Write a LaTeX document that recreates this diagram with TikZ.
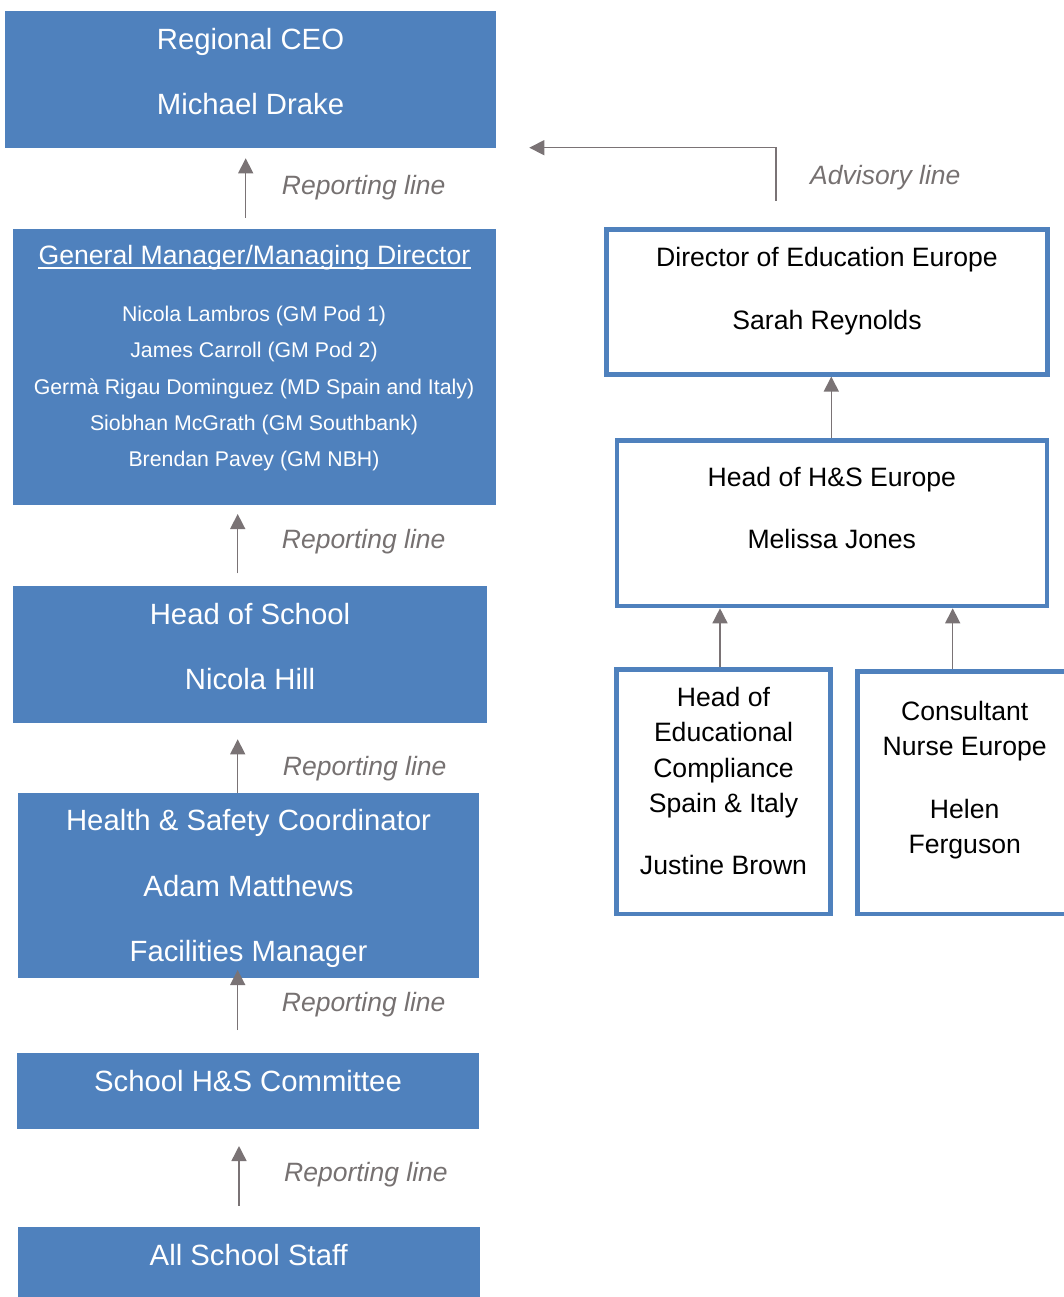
\documentclass[tikz,border=0pt]{standalone}
\usepackage{fontspec}
\setmainfont{Liberation Sans}
\usetikzlibrary{arrows.meta}
\definecolor{ofblue}{HTML}{4F81BD}
\definecolor{arrgray}{HTML}{7A7375}
\definecolor{labgray}{HTML}{767171}
\begin{document}
\begin{tikzpicture}[x=1pt,y=-1pt,
  bluebox/.style={rectangle, fill=ofblue, draw=none, inner sep=0pt, outer sep=0pt, anchor=north west},
  linebox/.style={rectangle, draw=ofblue, fill=white, line width=4.5pt, inner sep=0pt, anchor=north west},
  wbig/.style={text=white, inner sep=0pt, anchor=base, font=\fontsize{29.3}{35}\selectfont},
  whead/.style={text=white, inner sep=0pt, anchor=base, font=\fontsize{26.6}{32}\selectfont},
  wsmall/.style={text=white, inner sep=0pt, anchor=base, font=\fontsize{21.3}{26}\selectfont},
  btext/.style={text=black, inner sep=0pt, anchor=base, font=\fontsize{26.6}{32}\selectfont},
  replab/.style={text=labgray, inner sep=0pt, anchor=base west, font=\fontsize{26.5}{32}\selectfont\itshape},
  rep/.style={draw=arrgray, line width=1.5pt, -{Triangle[length=15pt,width=15pt]}}
]
\useasboundingbox (0,0) rectangle (1064,1297);
\clip (0,0) rectangle (1064,1297);

% ---------- left column boxes ----------
\node[bluebox, minimum width=491pt, minimum height=136.7pt] (ceo) at (5,11) {};
\node[bluebox, minimum width=483pt, minimum height=275.7pt] (gm) at (13,229) {};
\node[bluebox, minimum width=474pt, minimum height=136.7pt] (hos) at (13,586) {};
\node[bluebox, minimum width=461pt, minimum height=184.4pt] (hsc) at (18,793.3) {};
\node[bluebox, minimum width=462pt, minimum height=75.4pt] (com) at (17,1053.3) {};
\node[bluebox, minimum width=462.3pt, minimum height=82.7pt] (staff) at (17.7,1227.3) {};

% ---------- left column texts ----------
\node[wbig] (ceo1) at (250.5,49.3) {Regional CEO};
\node[wbig] (ceo2) at (250.5,115) {Michael Drake};

\node[whead] (gmh) at (254.5,264.3) {General Manager/Managing Director};
\draw[white, line width=1.7pt] ([yshift=-4pt]gmh.base west) -- ([yshift=-4pt]gmh.base east);
\node[wsmall] (gm1) at (254,321.7) {Nicola Lambros (GM Pod 1)};
\node[wsmall] (gm2) at (254,357.3) {James Carroll (GM Pod 2)};
\node[wsmall] (gm3) at (254,394) {Germà Rigau Dominguez (MD Spain and Italy)};
\node[wsmall] (gm4) at (254,430.7) {Siobhan McGrath (GM Southbank)};
\node[wsmall] (gm5) at (254,466.7) {Brendan Pavey (GM NBH)};

\node[wbig] (hos1) at (250,624) {Head of School};
\node[wbig] (hos2) at (250,689.3) {Nicola Hill};

\node[wbig] (hsc1) at (248.5,830.7) {Health \& Safety Coordinator};
\node[wbig] (hsc2) at (248.5,896.7) {Adam Matthews};
\node[wbig] (hsc3) at (248.5,961.7) {Facilities Manager};

\node[wbig] (com1) at (248,1091.7) {School H\&S Committee};
\node[wbig] (staff1) at (248.8,1265) {All School Staff};

% ---------- reporting arrows ----------
\coordinate (a1s) at (245.7,218);   \coordinate (a1e) at (245.7,158.3);
\coordinate (a2s) at (237.7,573.3); \coordinate (a2e) at (237.7,514);
\coordinate (a3e) at (237.7,739.3);
\coordinate (a4s) at (237.7,1030);  \coordinate (a4e) at (237.7,970);
\coordinate (a5s) at (239,1205.7);  \coordinate (a5e) at (239,1146);
\draw[rep] (a1s) -- (a1e);
\draw[rep] (a2s) -- (a2e);
\draw[rep] (a3e |- hsc.north) -- (a3e);
\draw[rep] (a4s) -- (a4e);
\draw[rep] (a5s) -- (a5e);

\node[replab] (r1) at (281.7,194.3) {Reporting line};
\node[replab] (r2) at (281.7,548.3) {Reporting line};
\node[replab] (r3) at (282.7,775) {Reporting line};
\node[replab] (r4) at (281.7,1011.7) {Reporting line};
\node[replab] (r5) at (284,1181.7) {Reporting line};

% ---------- right column boxes ----------
\node[linebox, minimum width=441.4pt, minimum height=144.8pt] (dir) at (604,227.3) {};
\node[linebox, minimum width=430.1pt, minimum height=165.5pt] (hhs) at (614.7,438.3) {};
\node[linebox, minimum width=214.2pt, minimum height=244.2pt] (hoec) at (614,667.3) {};
\node[linebox, minimum width=214.3pt, minimum height=242.5pt] (cons) at (855.3,669) {};

\node[btext] (dir1) at (827,266.7) {Director of Education Europe};
\node[btext] (dir2) at (827,329.3) {Sarah Reynolds};

\node[btext] (hhs1) at (831.8,486.7) {Head of H\&S Europe};
\node[btext] (hhs2) at (831.8,548.3) {Melissa Jones};

\node[btext] (hoec1) at (723.5,706.7) {Head of};
\node[btext] (hoec2) at (723.5,741.7) {Educational};
\node[btext] (hoec3) at (723.5,777.7) {Compliance};
\node[btext] (hoec4) at (723.5,812.7) {Spain \& Italy};
\node[btext] (hoec5) at (723.5,874.3) {Justine Brown};

\node[btext] (cons1) at (964.7,720.7) {Consultant};
\node[btext] (cons2) at (964.7,755.7) {Nurse Europe};
\node[btext] (cons3) at (964.7,818.3) {Helen};
\node[btext] (cons4) at (964.7,853.3) {Ferguson};

% ---------- right column arrows ----------
\coordinate (xd) at (831.3,0);
\coordinate (xe1) at (720,0);
\coordinate (xe2) at (952.7,0);
\draw[rep] (xd |- hhs.north) -- (xd |- dir.south);
\draw[rep] (xe1 |- hoec.north) -- (xe1 |- hhs.south);
\draw[rep] (xe2 |- cons.north) -- (xe2 |- hhs.south);

% ---------- advisory line ----------
\coordinate (adv1) at (776,200.7);
\coordinate (adv2) at (776,147.7);
\coordinate (adv3) at (529.3,147.7);
\draw[rep] (adv1) -- (adv2) -- (adv3);
\node[replab] (advl) at (810,185) {Advisory line};
\end{tikzpicture}
\end{document}
